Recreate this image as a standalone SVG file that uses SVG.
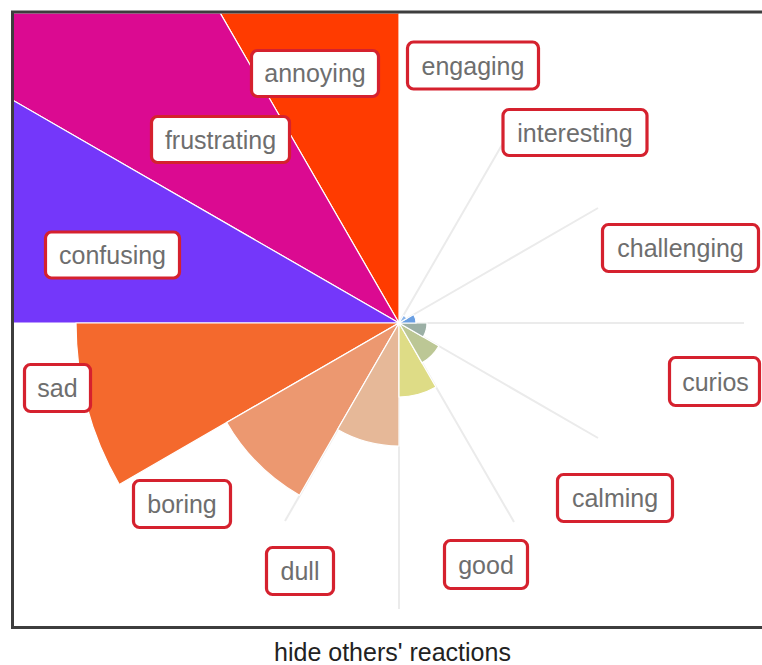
<svg xmlns="http://www.w3.org/2000/svg" width="762" height="665" viewBox="0 0 762 665">
<style>
.w{stroke:#fff;stroke-width:1.2}
.ax{stroke:#ebebeb;stroke-width:2;fill:none}
.lb rect{fill:#fff;stroke:#d5212e;stroke-width:3.2}
.lb text{font-family:"Liberation Sans",Arial,sans-serif;font-size:25px;fill:#6e6e6e;text-anchor:middle}
.cap{font-family:"Liberation Sans",Arial,sans-serif;font-size:25px;fill:#222;text-anchor:middle}
</style>
<defs>
<clipPath id="clip"><rect x="14" y="13.5" width="760" height="612"/></clipPath>
</defs>
<rect width="762" height="665" fill="#fff"/>
<g id="axes">
<line class="ax" x1="399" y1="323" x2="744" y2="323"/>
<line class="ax" x1="399" y1="323" x2="598" y2="208"/>
<line class="ax" x1="399" y1="323" x2="514" y2="124"/>
<line class="ax" x1="399" y1="323" x2="598" y2="438"/>
<line class="ax" x1="399" y1="323" x2="514" y2="522"/>
<line class="ax" x1="399" y1="323" x2="399" y2="609"/>
<line class="ax" x1="399" y1="323" x2="285" y2="521"/>
</g>
<g id="wedges" clip-path="url(#clip)">
<path id="w-annoying" class="w" fill="#ff3b00" d="M399,323 L399,-277 L99,-197 Z"/>
<path id="w-frustrating" class="w" fill="#db0a91" d="M399,323 L99,-197 L-121,23 Z"/>
<path id="w-confusing" class="w" fill="#7437fa" d="M399,323 L-121,23 L-201,323 Z"/>
<path id="w-sad" class="w" fill="#f4692d" d="M399,323 L119.27,484.5 A323,323 0 0,1 76,323 Z"/>
<path id="w-boring" class="w" fill="#ec9870" d="M399,323 L299.5,495.34 A199,199 0 0,1 226.66,422.5 Z"/>
<path id="w-dull" class="w" fill="#e6b898" d="M399,323 L399,446 A123,123 0 0,1 337.5,429.52 Z"/>
<path id="w-good" class="w" fill="#dedc86" d="M399,323 L436,387.09 A74,74 0 0,1 399,397 Z"/>
<path id="w-calming" class="w" fill="#bcc795" d="M399,323 L438.84,346 A46,46 0 0,1 422,362.84 Z"/>
<path id="w-curios" class="w" fill="#9bafa5" d="M399,323 L427,323 A28,28 0 0,1 423.25,337 Z"/>
<path id="w-challenging" class="w" fill="#6a9fe2" d="M399,323 L413.7,314.5 A17,17 0 0,1 416,323 Z"/>
<path id="w-interesting" class="w" fill="#8cb6ea" d="M399,323 L403.5,315.2 A9,9 0 0,1 406.8,318.5 Z"/>
</g>
<rect x="12.5" y="12" width="800" height="615.5" fill="none" stroke="#3d3d3d" stroke-width="3"/>
<g id="annoying" class="lb"><rect x="251.5" y="50.5" width="127" height="46" rx="6"/><text x="315" y="82">annoying</text></g>
<g id="frustrating" class="lb"><rect x="151.5" y="116.5" width="138" height="46" rx="6"/><text x="220.5" y="148.5">frustrating</text></g>
<g id="confusing" class="lb"><rect x="45.5" y="232" width="134" height="46" rx="6"/><text x="112.5" y="264">confusing</text></g>
<g id="engaging" class="lb"><rect x="407.5" y="42" width="131" height="47" rx="6"/><text x="473" y="75">engaging</text></g>
<g id="interesting" class="lb"><rect x="503" y="109.5" width="144" height="46" rx="6"/><text x="575" y="141.5">interesting</text></g>
<g id="challenging" class="lb"><rect x="602.5" y="224.5" width="156" height="47" rx="6"/><text x="680.5" y="257">challenging</text></g>
<g id="curios" class="lb"><rect x="669.5" y="357.5" width="90" height="48" rx="6"/><text x="715.5" y="390.5">curios</text></g>
<g id="calming" class="lb"><rect x="557.5" y="474.5" width="115" height="47" rx="6"/><text x="615" y="507">calming</text></g>
<g id="good" class="lb"><rect x="444.5" y="540.5" width="83" height="48" rx="6"/><text x="486" y="573.5">good</text></g>
<g id="dull" class="lb"><rect x="266.5" y="547.5" width="67" height="47" rx="6"/><text x="300" y="580">dull</text></g>
<g id="boring" class="lb"><rect x="133.5" y="480.5" width="97" height="47" rx="6"/><text x="182" y="513">boring</text></g>
<g id="sad" class="lb"><rect x="24.5" y="364.5" width="66" height="47" rx="6"/><text x="57.5" y="397">sad</text></g>
<text class="cap" x="392.5" y="661">hide others' reactions</text>
</svg>
